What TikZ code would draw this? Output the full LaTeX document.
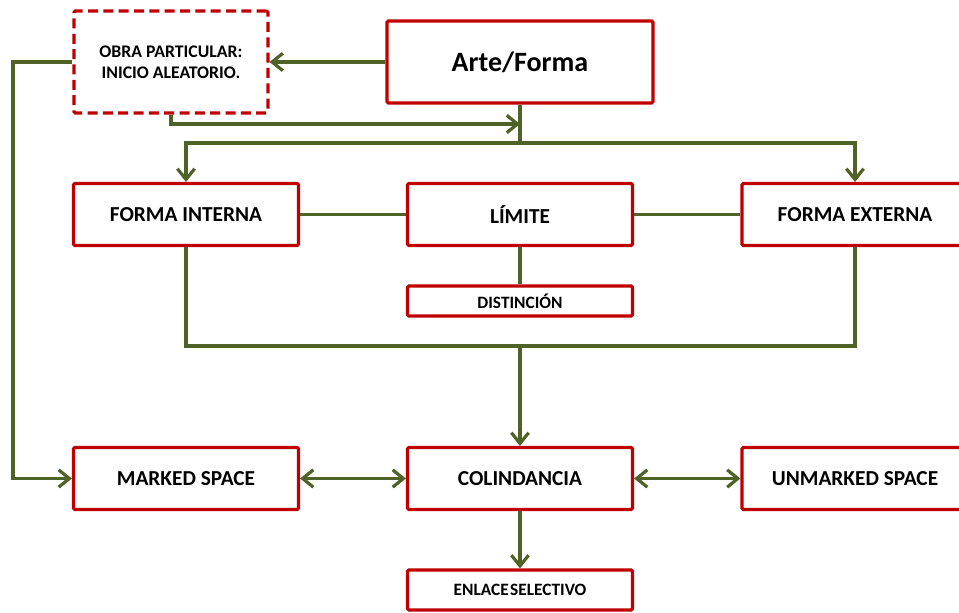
\documentclass[tikz,border=0pt]{standalone}
\usepackage{fontspec}
\setmainfont{Carlito}
\usetikzlibrary{arrows.meta}
\definecolor{boxred}{HTML}{C00000}
\definecolor{linegreen}{HTML}{4F6228}
\begin{document}
\begin{tikzpicture}[x=0.75pt,y=-0.75pt,
  box/.style={draw=boxred,line width=2.4pt,rectangle,rounded corners=1pt,fill=white,
    font=\bfseries\fontsize{16pt}{19pt}\selectfont,inner sep=0pt,
    minimum width=225*0.75pt,minimum height=62*0.75pt,align=center},
  conn/.style={draw=linegreen,line width=2.4pt},
  arr/.style={conn,-{Straight Barb[length=8pt,width=13pt,line width=2.4pt]}},
  darr/.style={conn,{Straight Barb[length=8pt,width=13pt,line width=2.4pt]}-{Straight Barb[length=8pt,width=13pt,line width=2.4pt]}}]
\clip (0,0) rectangle (959,613);
\fill[white] (0,0) rectangle (959,613);
% nodes
\node[box,dashed,dash pattern=on 7.5pt off 4pt,minimum width=194*0.75pt,minimum height=102*0.75pt,
  font=\bfseries\fontsize{13.3pt}{16pt}\selectfont] (obra) at (171,62) {OBRA PARTICULAR:\\INICIO ALEATORIO.};
\node[box,minimum width=266*0.75pt,minimum height=82*0.75pt,font=\bfseries\fontsize{21pt}{25pt}\selectfont] (arte) at (520,62) {Arte/Forma};
\node[box] (fi) at (186,214.5) {FORMA INTERNA};
\node[box] (lim) at (520,214.5) {LÍMITE};
\node[box,minimum width=226*0.75pt] (fe) at (855,214.5) {FORMA EXTERNA};
\node[box,minimum height=30*0.75pt,font=\bfseries\fontsize{13pt}{15pt}\selectfont] (dist) at (520,301) {DISTINCIÓN};
\node[box] (ms) at (186,478.5) {MARKED SPACE};
\node[box] (col) at (520,478.5) {COLINDANCIA};
\node[box,minimum width=226*0.75pt] (unm) at (855,478.5) {UNMARKED SPACE};
\node[box,minimum height=40*0.75pt,font=\bfseries\fontsize{13pt}{15pt}\selectfont] (enl) at (520,590) {ENLACE\hspace{1pt}SELECTIVO};
% coordinates
\coordinate (busT) at (520,143);
\coordinate (busB) at (520,346);
\coordinate (j1) at (520,124);
\coordinate (lft) at (13,0);
% connectors
\draw[arr] (arte.west) -- (obra.east);
\draw[arr] (obra.south) |- (j1);
\draw[conn] (arte.south) -- (busT);
\draw[arr] (busT) -| (fi.north);
\draw[arr] (busT) -| (fe.north);
\draw[conn] (fi.east) -- (lim.west);
\draw[conn] (lim.east) -- (fe.west);
\draw[conn] (lim.south) -- (dist.north);
\draw[conn] (fi.south) |- (busB) -| (fe.south);
\draw[arr] (busB) -- (col.north);
\draw[arr] (obra.west) -| (lft |- ms.west) -- (ms.west);
\draw[darr] (ms.east) -- (col.west);
\draw[darr] (col.east) -- (unm.west);
\draw[arr] (col.south) -- (enl.north);
\end{tikzpicture}
\end{document}
